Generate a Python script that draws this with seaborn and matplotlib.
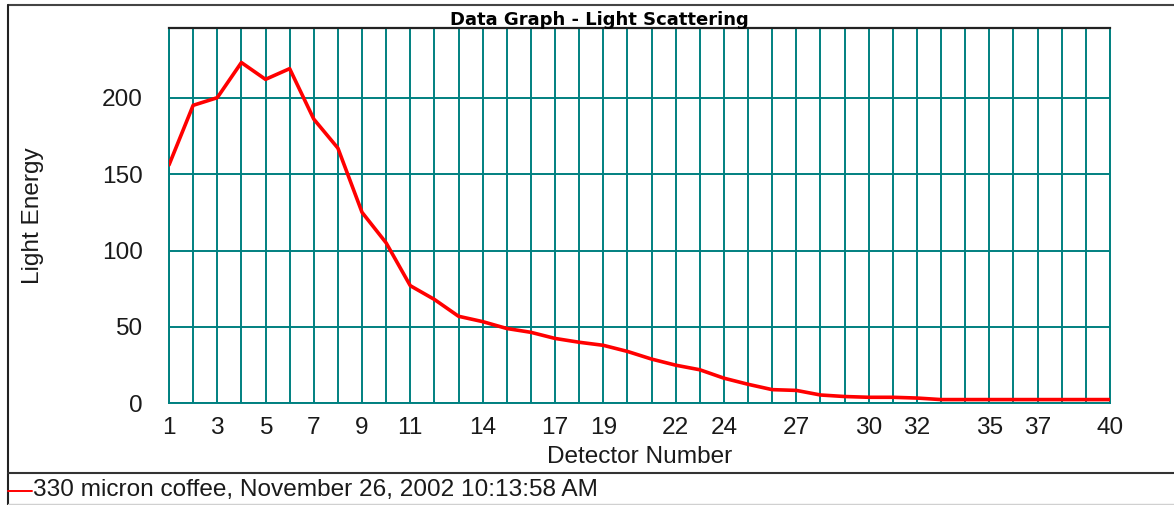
import matplotlib
matplotlib.use("Agg")
import matplotlib.pyplot as plt
from matplotlib.lines import Line2D
import numpy as np
import pandas as pd
import seaborn as sns

# Light energy per detector channel
detectors = list(range(1, 41))
light_energy = [156, 195, 200, 223, 212, 219, 186, 167, 125, 105,
                77, 68, 57, 53.5, 49, 46.5, 42.5, 40, 38, 34,
                29, 25, 22, 16.5, 12.5, 9, 8.5, 5.5, 4.5, 4,
                4, 3.5, 2.5, 2.5, 2.5, 2.5, 2.5, 2.5, 2.5, 2.5]
x_labelled = [1, 3, 5, 7, 9, 11, 14, 17, 19, 22, 24, 27, 30, 32, 35, 37, 40]
y_ticks = [0, 50, 100, 150, 200]
series_name = "330 micron coffee, November 26, 2002 10:13:58 AM"
title = "Data Graph - Light Scattering"

sns.set_style("white")
plt.rcParams["font.family"] = ["Liberation Sans", "DejaVu Sans"]

W, H = 1174, 505
fig = plt.figure(figsize=(W / 100, H / 100), dpi=100)

left, right, top, bottom = 169, 1110, 28.3, 403.4
ax = fig.add_axes([left / W, 1 - bottom / H, (right - left) / W, (bottom - top) / H])

df = pd.DataFrame({"Detector Number": detectors, "Light Energy": light_energy})
teal = "#008080"
fs = 17.6

sns.lineplot(data=df, x="Detector Number", y="Light Energy", ax=ax,
             color="#ff0000", linewidth=2.6, zorder=5)

ax.set_xlim(1, 40)
ax.set_ylim(0, 245.4)

ax.set_xticks(x_labelled)
ax.set_xticklabels([str(v) for v in x_labelled])
ax.set_xticks(detectors, minor=True)
ax.set_yticks(y_ticks)
ax.set_yticklabels([str(v) for v in y_ticks])

ax.grid(True, which="both", axis="x", color=teal, linewidth=1.4)
ax.grid(True, which="major", axis="y", color=teal, linewidth=1.4)
ax.set_axisbelow(True)

ax.tick_params(axis="both", which="both", length=0, labelsize=fs, colors="#1a1a1a")
ax.tick_params(axis="x", pad=9.5)
ax.tick_params(axis="y", pad=19)

for side in ("left", "right", "bottom"):
    ax.spines[side].set_color(teal)
    ax.spines[side].set_linewidth(1.4)
ax.spines["top"].set_color("#222222")
ax.spines["top"].set_linewidth(1.6)

ax.set_xlabel("Detector Number", fontsize=fs, color="#1a1a1a", va="center")
ax.set_ylabel("Light Energy", fontsize=fs, color="#1a1a1a", va="center")
ax.xaxis.set_label_coords(0.5, (bottom - 457) / (bottom - top))
ax.yaxis.set_label_coords((33 - left) / (right - left), 0.5)

fig.text(599 / W, 1 - 25 / H, title, ha="center", va="baseline",
         fontsize=13, fontweight="bold", color="#000000",
         family=["DejaVu Sans"])

# Window frame lines
def hline(y, x0, x1, color, lw):
    fig.add_artist(Line2D([x0 / W, x1 / W], [1 - y / H, 1 - y / H],
                          transform=fig.transFigure, color=color, linewidth=lw))

def vline(x, y0, y1, color, lw):
    fig.add_artist(Line2D([x / W, x / W], [1 - y0 / H, 1 - y1 / H],
                          transform=fig.transFigure, color=color, linewidth=lw))

hline(5, 8, W, "#444444", 1.5)
vline(8, 5, H, "#222222", 1.5)
hline(473, 8, W, "#333333", 1.5)
hline(503.5, 8, W, "#d0d0d0", 1.0)

# Series key below the frame
fig.add_artist(Line2D([8 / W, 32 / W], [1 - 490.5 / H, 1 - 490.5 / H],
                      transform=fig.transFigure, color="#ff0000", linewidth=1.4))
fig.text(33 / W, 1 - 490 / H, series_name, ha="left", va="center",
         fontsize=fs, color="#1a1a1a")

fig.savefig("out.png", dpi=100)
